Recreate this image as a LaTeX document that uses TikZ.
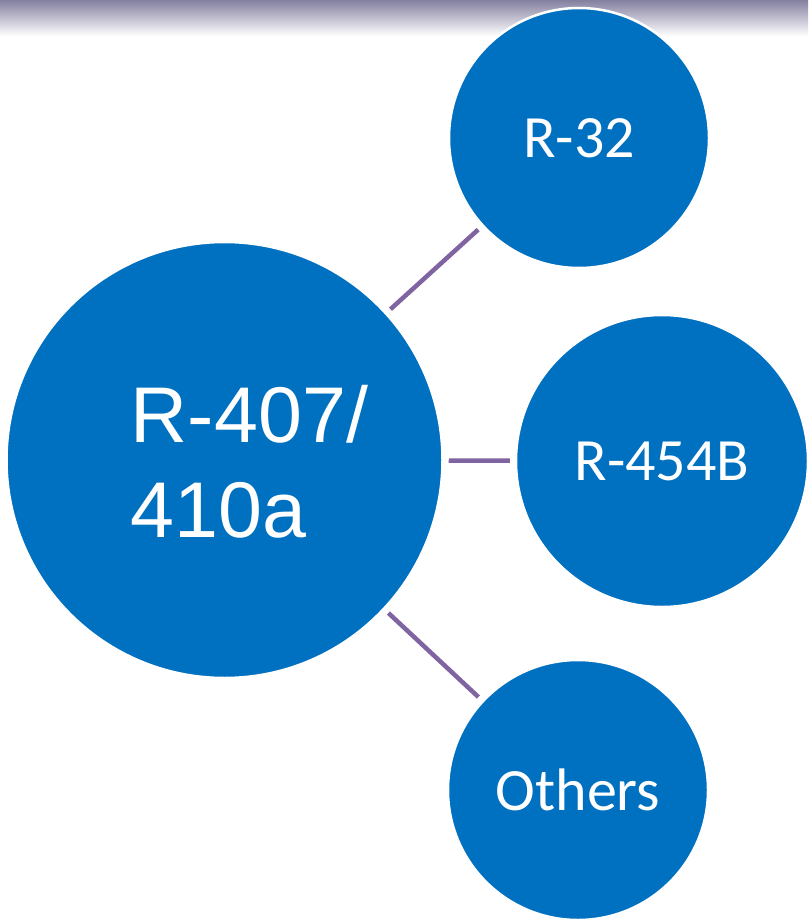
\documentclass[tikz,border=0pt]{standalone}
\usepackage{fontspec}
\setmainfont{Carlito}
\newfontfamily\arialfont{Liberation Sans}
\usetikzlibrary{positioning}
\definecolor{refblue}{RGB}{0,112,192}
\definecolor{linkpurple}{RGB}{128,100,162}
\definecolor{bandtop}{RGB}{132,128,160}

\begin{document}
\begin{tikzpicture}[x=1pt, y=-1pt,
    bubble/.style={circle, fill=refblue, draw=white, line width=2.5pt, inner sep=0pt, text=white, font=\fontsize{60}{66}\selectfont},
    bigtext/.style={align=left, text=white, inner sep=0pt, font=\arialfont\fontsize{79}{95}\selectfont},
    link/.style={draw=linkpurple, line width=4.5pt, shorten >=5pt, shorten <=5pt}
]
\useasboundingbox (0,0) rectangle (808,923);
% top band
\shade[top color=bandtop, bottom color=white] (0,0) rectangle (808,36);

\node[bubble, minimum size=436pt] (big) at (224.5,460) {};
\node[bigtext] (bigtxt) at ([xshift=25pt,yshift=-2pt]big.center) {R-407/\\410a};

\node[bubble, minimum size=260pt] (r32) at (579,138) {R-32};
\node[bubble, minimum size=292pt] (r454) at (662,461) {R-454B};
\node[bubble, minimum size=260pt] (oth) at (578,790) {Others};

\draw[link] (big) -- (r32);
\draw[link] (big) -- (r454);
\draw[link] (big) -- (oth);
\end{tikzpicture}
\end{document}
